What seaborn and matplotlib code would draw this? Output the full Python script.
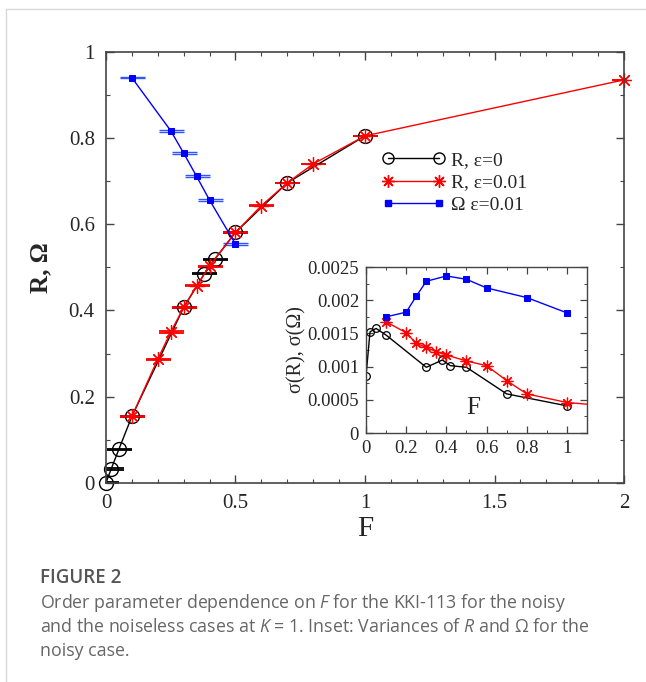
import numpy as np
import matplotlib
matplotlib.use("Agg")
import matplotlib.pyplot as plt
from matplotlib.lines import Line2D
from matplotlib.ticker import MultipleLocator, FuncFormatter
import seaborn as sns

# main panel: order parameter vs F
F_r0 = [0.0, 0.02, 0.05, 0.1, 0.3, 0.38, 0.42, 0.5, 0.7, 1.0]
R_r0 = [0.0, 0.032, 0.078, 0.154, 0.407, 0.485, 0.519, 0.581, 0.696, 0.805]
F_r1 = [0.1, 0.2, 0.25, 0.3, 0.35, 0.4, 0.5, 0.6, 0.7, 0.8, 1.0, 2.0]
R_r1 = [0.154, 0.287, 0.350, 0.407, 0.457, 0.503, 0.581, 0.643, 0.696, 0.740, 0.805, 0.935]
F_om = [0.1, 0.25, 0.3, 0.35, 0.4, 0.5]
Om = [0.940, 0.817, 0.765, 0.711, 0.656, 0.554]

# error bars (std) on main panel
err_r0 = [0.00087, 0.00153, 0.00158, 0.00148, 0.00099, 0.0011, 0.00102, 0.00099, 0.00059, 0.00041]
err_r1 = [0.00168, 0.00151, 0.00135, 0.00129, 0.00123, 0.00118, 0.00109, 0.00102, 0.00079, 0.00059, 0.00046, 0.00021]
err_om = [0.00175, 0.00206, 0.00229, 0.0023, 0.00237, 0.00232]

# inset: variances
Fi_r0 = [0.0, 0.02, 0.05, 0.1, 0.3, 0.38, 0.42, 0.5, 0.7, 1.0]
sig_r0 = [0.000865, 0.001525, 0.001575, 0.001475, 0.00099, 0.0011, 0.001015, 0.00099, 0.00059, 0.00041]
Fi_r1 = [0.1, 0.2, 0.25, 0.3, 0.35, 0.4, 0.5, 0.6, 0.7, 0.8, 1.0, 2.0]
sig_r1 = [0.001675, 0.00151, 0.00135, 0.00129, 0.001225, 0.001175, 0.001085, 0.001015, 0.00079, 0.00059, 0.00046, 0.00021]
Fi_om = [0.1, 0.2, 0.25, 0.3, 0.4, 0.5, 0.6, 0.8, 1.0]
sig_om = [0.00175, 0.00182, 0.00206, 0.002285, 0.002365, 0.002315, 0.002185, 0.00204, 0.00181]

labels = ["R, ε=0", "R, ε=0.01", "Ω ε=0.01"]

sns.set_theme(style="ticks")
plt.rcParams["font.family"] = ["Liberation Serif", "DejaVu Serif"]
plt.rcParams["mathtext.fontset"] = "custom"
plt.rcParams["mathtext.it"] = "Open Sans:italic"
plt.rcParams["mathtext.rm"] = "Open Sans"

STAR = (8, 2, 0)
spine_col = "#444444"

fig = plt.figure(figsize=(6.46, 6.82), dpi=100)
ax = fig.add_axes([0.164, 0.292, 0.802, 0.632])

# error bars first
ax.errorbar(F_r0, R_r0, yerr=err_r0, fmt="none", ecolor="black", capsize=9, elinewidth=1, capthick=1.3)
ax.errorbar(F_r1, R_r1, yerr=err_r1, fmt="none", ecolor="red", capsize=9, elinewidth=1, capthick=1.3)
ax.errorbar(F_om, Om, yerr=err_om, fmt="none", ecolor="#3355ff", capsize=9, elinewidth=1, capthick=1.0)

sns.lineplot(x=F_r0, y=R_r0, ax=ax, color="black", lw=1, marker="o", markersize=10,
             markerfacecolor="none", markeredgecolor="black", markeredgewidth=1,
             estimator=None, clip_on=False)
sns.lineplot(x=F_r1, y=R_r1, ax=ax, color="red", lw=1, marker=STAR, markersize=10.5,
             markeredgecolor="red", markeredgewidth=0.9, estimator=None, clip_on=False)
sns.lineplot(x=F_om, y=Om, ax=ax, color="blue", lw=1, marker="s", markersize=4.5,
             markeredgecolor="blue", markerfacecolor="blue", estimator=None, clip_on=False)

ax.set_xlim(0, 2)
ax.set_ylim(0, 1)
ax.xaxis.set_major_locator(MultipleLocator(0.5))
ax.xaxis.set_minor_locator(MultipleLocator(0.1))
ax.yaxis.set_major_locator(MultipleLocator(0.2))
ax.yaxis.set_minor_locator(MultipleLocator(0.1))
fmt = FuncFormatter(lambda v, p: "%g" % round(v, 6))
ax.xaxis.set_major_formatter(fmt)
ax.yaxis.set_major_formatter(fmt)
ax.tick_params(which="both", direction="in", top=True, right=True, color=spine_col, labelsize=15, pad=8)
ax.tick_params(which="major", length=6, width=1)
ax.tick_params(which="minor", length=3, width=0.8)
for s in ax.spines.values():
    s.set_color(spine_col)
    s.set_linewidth(1.2)
ax.set_xlabel("F", fontsize=21, labelpad=2)
ax.set_ylabel("R, Ω", fontsize=18, fontweight="bold", labelpad=12)

handles = [
    Line2D([], [], color="black", lw=1, marker="o", markersize=8, markerfacecolor="none", markeredgecolor="black"),
    Line2D([], [], color="red", lw=1, marker=STAR, markersize=9, markeredgecolor="red"),
    Line2D([], [], color="blue", lw=1, marker="s", markersize=4.5, markeredgecolor="blue"),
]
ax.legend(handles, labels, loc="upper left", bbox_to_anchor=(0.5, 0.81), frameon=False,
          numpoints=2, fontsize=14, handlelength=3.2, handletextpad=0.3, labelspacing=0.25)

# inset
axi = fig.add_axes([0.5666, 0.365, 0.3421, 0.2435])
sns.lineplot(x=Fi_r0, y=sig_r0, ax=axi, color="black", lw=1, marker="o", markersize=5.5,
             markerfacecolor="none", markeredgecolor="black", markeredgewidth=0.9, estimator=None)
sns.lineplot(x=Fi_r1, y=sig_r1, ax=axi, color="red", lw=1, marker=STAR, markersize=8.5,
             markeredgecolor="red", markeredgewidth=0.9, estimator=None)
sns.lineplot(x=Fi_om, y=sig_om, ax=axi, color="blue", lw=1, marker="s", markersize=4,
             markeredgecolor="blue", markerfacecolor="blue", estimator=None)
axi.set_xlim(0, 1.1)
axi.set_ylim(0, 0.0025)
axi.xaxis.set_major_locator(MultipleLocator(0.2))
axi.xaxis.set_minor_locator(MultipleLocator(0.1))
axi.yaxis.set_major_locator(MultipleLocator(0.0005))
axi.yaxis.set_minor_locator(MultipleLocator(0.00025))
axi.xaxis.set_major_formatter(fmt)
axi.yaxis.set_major_formatter(fmt)
axi.tick_params(which="both", direction="in", top=True, right=True, color=spine_col, labelsize=13.5, pad=5)
axi.tick_params(which="major", length=5, width=0.9)
axi.tick_params(which="minor", length=2.5, width=0.7)
for s in axi.spines.values():
    s.set_color(spine_col)
    s.set_linewidth(1)
axi.set_ylabel("σ(R), σ(Ω)", fontsize=14.5)
axi.yaxis.set_label_coords(-0.27, 0.5)
axi.set_xlabel("")
axi.text(0.532, 0.00038, "F", fontsize=18, ha="center", va="center")

# page decorations
fig.add_artist(Line2D([6 / 646, 1], [1 - 9 / 682, 1 - 9 / 682], color="#d9d9d9", lw=1, transform=fig.transFigure))
fig.add_artist(Line2D([6 / 646, 6 / 646], [0, 1 - 9 / 682], color="#d9d9d9", lw=1, transform=fig.transFigure))

cap_kw = dict(family="Open Sans", color="#666666", fontsize=12.8, va="center", ha="left")
fig.text(40 / 646, 1 - 578 / 682, "FIGURE 2", family="Open Sans", color="#555555",
         fontsize=13.5, fontweight="semibold", va="center", ha="left")
fig.text(40 / 646, 1 - 603 / 682, "Order parameter dependence on $F$ for the KKI-113 for the noisy", **cap_kw)
fig.text(40 / 646, 1 - 627 / 682, "and the noiseless cases at $K$ = 1. Inset: Variances of $R$ and Ω for the", **cap_kw)
fig.text(40 / 646, 1 - 651 / 682, "noisy case.", **cap_kw)

fig.savefig("out.png", dpi=100)
